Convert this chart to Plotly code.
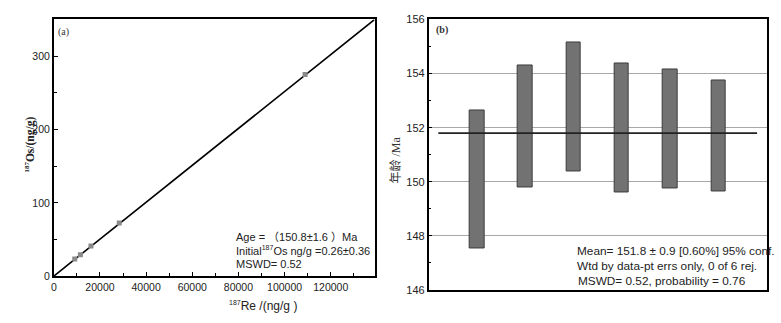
import numpy as np
import plotly.graph_objects as go

W, H = 781, 323

# Re-Os isochron samples
re187 = [9065, 11525, 16100, 28360, 108900]          # 187Re, ng/g
os187 = [23.4, 29.4, 41.2, 72.5, 275.0]              # 187Os, ng/g

# isochron parameters
age_ma = 150.8
initial_os = 0.26
decay_const = 1.666e-11                               # 187Re, per year
slope = np.exp(decay_const * age_ma * 1e6) - 1
line_x = [0, 139000]
line_y = [initial_os + slope * x for x in line_x]

# model ages (box centres and half-heights)
sample_idx = [1, 2, 3, 4, 5, 6]
ages = [150.08, 152.04, 152.76, 152.00, 151.96, 151.68]
age_err = [2.54, 2.26, 2.38, 2.39, 2.21, 2.05]
weighted_mean = 151.8
mean_span = [0.2, 6.8]


def px(x):
    return x / W


def py(y):
    return 1 - y / H


fig = go.Figure()

fig.add_trace(go.Scatter(
    x=line_x, y=line_y, mode="lines",
    line=dict(color="black", width=1.6),
    xaxis="x", yaxis="y", showlegend=False, hoverinfo="skip"))
fig.add_trace(go.Scatter(
    x=re187, y=os187, mode="markers",
    marker=dict(symbol="square", size=5, color="#8a8a8a"),
    xaxis="x", yaxis="y", showlegend=False))

fig.add_trace(go.Bar(
    x=sample_idx,
    y=[2 * e for e in age_err],
    base=[a - e for a, e in zip(ages, age_err)],
    width=0.3,
    marker=dict(color="#727272", line=dict(color="#3c3c3c", width=1)),
    xaxis="x2", yaxis="y2", showlegend=False))
fig.add_trace(go.Scatter(
    x=mean_span, y=[weighted_mean, weighted_mean], mode="lines",
    line=dict(color="#222222", width=1.6),
    xaxis="x2", yaxis="y2", showlegend=False, hoverinfo="skip"))

tick_font = dict(family="Liberation Sans, Arial", size=10.5, color="#222")
axis_common = dict(showline=True, linecolor="black", linewidth=1.6, mirror=True,
                   zeroline=False, ticks="inside", ticklen=4, tickcolor="black",
                   tickfont=tick_font)

fig.update_layout(
    width=W, height=H,
    margin=dict(l=0, r=0, t=0, b=0),
    paper_bgcolor="white", plot_bgcolor="white",
    bargap=0,
    xaxis=dict(domain=[px(51), px(373)], range=[0, 139000], dtick=20000,
               tickformat="d", showgrid=False, anchor="y",
               minor=dict(dtick=10000, ticks="inside", ticklen=3, tickcolor="black"),
               **axis_common),
    yaxis=dict(domain=[py(280.7), py(14)], range=[0, 350], dtick=100,
               showgrid=False, anchor="x",
               minor=dict(dtick=50, ticks="inside", ticklen=3, tickcolor="black"),
               **axis_common),
    xaxis2=dict(domain=[px(427.3), px(766.7)], range=[0, 7], showticklabels=False,
                showgrid=False, anchor="y2",
                showline=True, linecolor="black", linewidth=1.6, mirror=True,
                zeroline=False, ticks=""),
    yaxis2=dict(domain=[py(295), py(14)], range=[146, 156], dtick=2,
                showgrid=True, gridcolor="#a8a8a8", gridwidth=1, anchor="x2",
                minor=dict(dtick=1, ticks="inside", ticklen=3, tickcolor="black"),
                **{**axis_common, "tickfont": dict(family="Liberation Sans, Arial",
                                                   size=11, color="#222")}),
)

sans = "Liberation Sans, Arial, Noto Sans CJK SC"
serif = "Liberation Serif, Times New Roman, Noto Sans CJK SC"
sup = "<sup><span style='font-size:7px'>187</span></sup>"
notes = [
    # left panel
    dict(x=px(53), y=py(27), text="(a)", xanchor="left",
         font=dict(family=serif, size=10, color="#333")),
    dict(x=px(232), y=py(239.5), text="Age = （150.8±1.6 ）Ma", xanchor="left",
         font=dict(family=sans, size=11, color="#222")),
    dict(x=px(232), y=py(254), text=f"Initial{sup}Os ng/g =0.26±0.36",
         xanchor="left", font=dict(family=sans, size=11, color="#222")),
    dict(x=px(232), y=py(267.5), text="MSWD= 0.52", xanchor="left",
         font=dict(family=sans, size=11, color="#222")),
    dict(x=px(225), y=py(311.5), text=f"{sup}Re /(ng/g )",
         font=dict(family=sans, size=12, color="#222")),
    dict(x=px(18), y=py(144), text=f"<b>{sup}Os/(ng/g)</b>", textangle=-90,
         font=dict(family=serif, size=11.5, color="#222")),
    # right panel
    dict(x=px(433), y=py(24.5), text="<b>(b)</b>", xanchor="left",
         font=dict(family=serif, size=10, color="#333")),
    dict(x=px(574), y=py(254.3), text="Mean= 151.8 ± 0.9 [0.60%] 95% conf.",
         xanchor="left", font=dict(family=sans, size=11.8, color="#222")),
    dict(x=px(574), y=py(270), text="Wtd by data-pt errs only, 0 of 6 rej.",
         xanchor="left", font=dict(family=sans, size=11.8, color="#222")),
    dict(x=px(575), y=py(285.7), text="MSWD= 0.52, probability = 0.76",
         xanchor="left", font=dict(family=sans, size=11.8, color="#222")),
    dict(x=px(395), y=py(160), text="年龄 /Ma", textangle=-90,
         font=dict(family=serif, size=12, color="#333")),
]
for n in notes:
    n.setdefault("xref", "paper")
    n.setdefault("yref", "paper")
    n.setdefault("showarrow", False)
    n.setdefault("yanchor", "middle")
    fig.add_annotation(**n)

fig.write_html("out.html")
